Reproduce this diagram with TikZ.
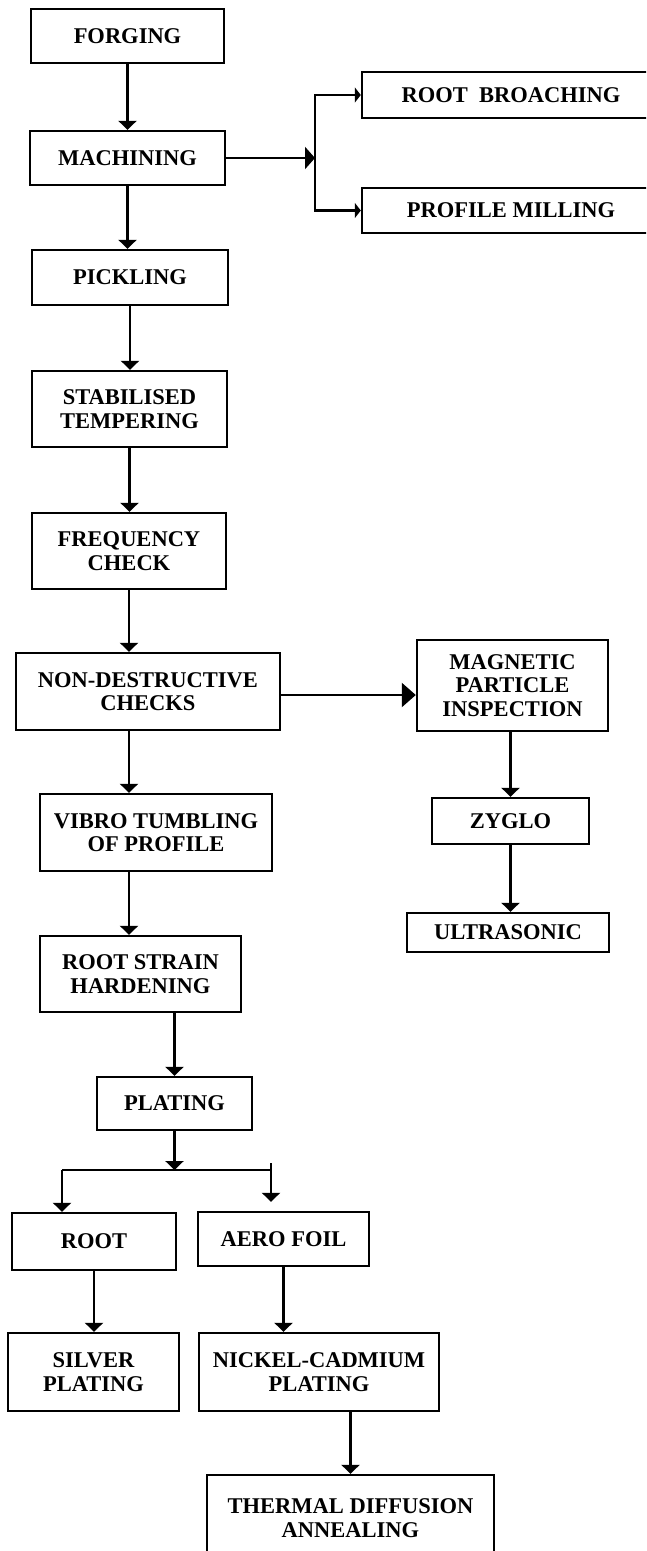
\documentclass[tikz,border=0pt]{standalone}
\usepackage{fontspec}
\setmainfont{Liberation Serif}
\usetikzlibrary{arrows.meta}
\begin{document}
\begin{tikzpicture}[x=1pt,y=-1pt,
  proc/.style={draw, line width=2.4pt, rectangle, inner sep=0pt, align=center,
    font=\bfseries\fontsize{22.5}{23.5}\selectfont},
  arr/.style={line width=2.4pt, -{Triangle[width=18pt,length=9pt]}},
  arrs/.style={line width=2.4pt, -{Triangle[width=15pt,length=6pt]}},
  arrb/.style={line width=2.4pt, -{Triangle[width=24pt,length=14pt]}},
  arrm/.style={line width=2.4pt, -{Triangle[width=22pt,length=10pt]}},
  ln/.style={line width=2.4pt}]
\useasboundingbox (0,0) rectangle (646,1551);
\clip (0,0) rectangle (646,1551);
\fill[white] (0,0) rectangle (646,1551);

\node[proc, minimum width=193pt, minimum height=54pt] (forging) at (127.5,36) {FORGING};
\node[proc, minimum width=195pt, minimum height=54pt] (machining) at (127.5,158) {MACHINING};
\node[proc, minimum width=196pt, minimum height=55pt] (pickling) at (130,277.5) {PICKLING};
\node[proc, minimum width=195pt, minimum height=76pt] (stab) at (129.5,409) {STABILISED\\TEMPERING};
\node[proc, minimum width=194pt, minimum height=76pt] (freq) at (129,551) {FREQUENCY\\CHECK};
\node[proc, minimum width=264pt, minimum height=77pt] (ndc) at (148,691.5) {NON-DESTRUCTIVE\\CHECKS};
\node[proc, minimum width=191pt, minimum height=91pt] (mpi) at (512.5,685.5) {MAGNETIC\\PARTICLE\\INSPECTION};
\node[proc, minimum width=232pt, minimum height=77pt] (vibro) at (156,832.5) {VIBRO TUMBLING\\OF PROFILE};
\node[proc, minimum width=157pt, minimum height=46pt] (zyglo) at (510.5,821) {ZYGLO};
\node[proc, minimum width=202pt, minimum height=39pt] (ultra) at (508,932.5) {ULTRASONIC};
\node[proc, minimum width=201pt, minimum height=76pt] (rsh) at (140.5,974) {ROOT STRAIN\\HARDENING};
\node[proc, minimum width=155pt, minimum height=53pt] (plating) at (174.5,1103.5) {PLATING};
\node[proc, minimum width=164pt, minimum height=57pt] (root) at (94,1241.5) {ROOT};
\node[proc, minimum width=171pt, minimum height=54pt] (aero) at (283.5,1239) {AERO FOIL};
\node[proc, minimum width=171pt, minimum height=78pt] (silver) at (93.5,1372) {SILVER\\PLATING};
\node[proc, minimum width=240pt, minimum height=78pt] (nickel) at (319,1372) {NICKEL-CADMIUM\\PLATING};
\node[proc, minimum width=287pt, minimum height=86pt] (thermal) at (350.5,1518) {THERMAL DIFFUSION\\ANNEALING};
\node[proc, minimum width=298pt, minimum height=46pt] (rootb) at (511,95) {ROOT~~BROACHING};
\node[proc, minimum width=298pt, minimum height=45pt] (profm) at (511,210.5) {PROFILE MILLING};

\coordinate (bus) at (315,158);
\coordinate (jL) at (62,1170);
\coordinate (jR) at (271,1170);
\coordinate (jRt) at (271,1163);

% main column
\draw[arr] (forging.south) -- (machining.north);
\draw[arr] (machining.south) -- (machining.south |- pickling.north);
\draw[arr] (pickling.south) -- (pickling.south |- stab.north);
\draw[arr] (stab.south) -- (stab.south |- freq.north);
\draw[arr] (freq.south) -- (freq.south |- ndc.north);
\draw[arr] (freq.south |- ndc.south) -- (freq.south |- vibro.north);
\draw[arr] (freq.south |- vibro.south) -- (freq.south |- rsh.north);
\draw[arr] (plating.north |- rsh.south) -- (plating.north);

% machining branches
\draw[arrm] (machining.east) -- (bus);
\draw[arrs] (bus) |- (rootb.west);
\draw[arrs] (bus) |- (profm.west);

% NDC branch
\draw[arrb] (ndc.east |- 0,695) -- (mpi.west |- 0,695);
\draw[arr] (zyglo.north |- mpi.south) -- (zyglo.north);
\draw[arr] (zyglo.south) -- (zyglo.south |- ultra.north);

% plating split
\draw[arr] (plating.south) -- (plating.south |- jL);
\draw[ln] (jR) -- (jL);
\draw[arr] (jL) -- (jL |- root.north);
\draw[arr, shorten >=9pt] (jRt) -- (jR |- aero.north);

\draw[arr] (root.south) -- (root.south |- silver.north);
\draw[arr] (aero.south) -- (aero.south |- nickel.north);
\draw[arr] (thermal.north |- nickel.south) -- (thermal.north);
\end{tikzpicture}
\end{document}
